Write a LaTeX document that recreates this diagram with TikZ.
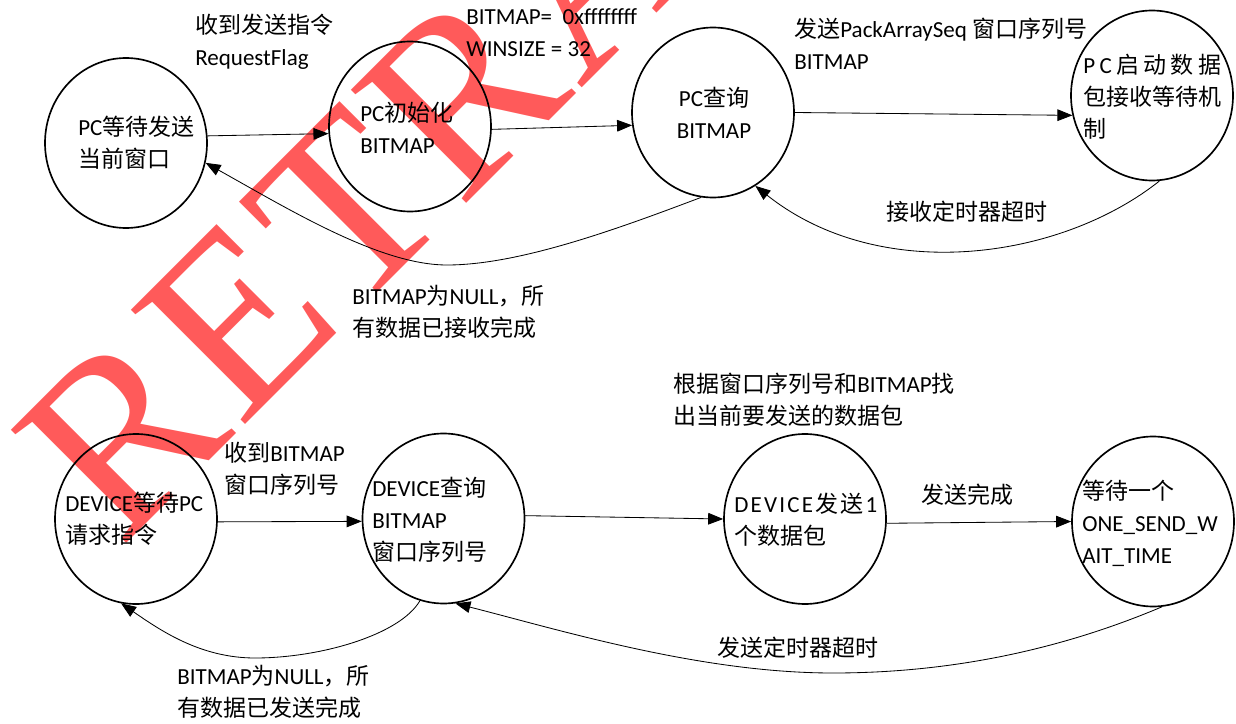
\documentclass[tikz,border=0pt]{standalone}
\usepackage{fontspec}
\setmainfont{Carlito}
\newfontfamily\cjk{Noto Sans CJK SC}
\newfontfamily\wmfont{Liberation Serif}
\usetikzlibrary{arrows.meta,shapes.geometric}
\definecolor{wmred}{RGB}{255,90,90}
\newcommand\zh[1]{{\cjk #1}}
\begin{document}
\begin{tikzpicture}[x=0.6pt,y=-0.6pt,
  state/.style={draw, ellipse, line width=1pt, minimum width=97.2pt, minimum height=102pt, inner sep=0pt},
  txt/.style={inner sep=0pt, align=left, anchor=west, font=\fontsize{13.8}{19.2}\selectfont},
  ctxt/.style={txt, anchor=center, align=center},
  flow/.style={line width=0.5pt, -{Triangle[length=9pt,width=7pt]}},
  wm/.style={rotate=45, anchor=base west, inner sep=0pt, text=wmred, font=\wmfont\fontsize{148}{148}\selectfont},
]
\useasboundingbox (0,0) rectangle (1236,724);
\node[wm] (mark) at (120,550) {R\kern3pt E\kern3pt T\kern3pt R\kern3pt A\kern3pt C\kern3pt T\kern3pt E\kern3pt D};

% states
\node[state] (e1) at (126,143) {};
\node[state] (e2) at (410,126.5) {};
\node[state] (e3) at (713,112.5) {};
\node[state] (e4) at (1152,95.5) {};
\node[state] (e5) at (136,519) {};
\node[state] (e6) at (443.5,518.5) {};
\node[state] (e7) at (805,519) {};
\node[state] (e8) at (1153,521.5) {};

% state texts
\node[txt] (t1) at (78,143) {PC\zh{等待发送}\\\zh{当前窗口}};
\node[txt] (t2) at (360,127.5) {PC\zh{初始化}\\BITMAP};
\node[ctxt] (t3) at (714,113) {PC\zh{查询}\\BITMAP};
\node[txt] (t4) at (1083,97) {\makebox[82.8pt][s]{P\hfill C\hfill\zh{启}\hfill\zh{动}\hfill\zh{数}\hfill\zh{据}}\\\zh{包接收等待机}\\\zh{制}};
\node[txt] (t5) at (65,519) {DEVICE\zh{等待}PC\\\zh{请求指令}};
\node[txt] (t6) at (372,520) {DEVICE\zh{查询}\\BITMAP\\\zh{窗口序列号}};
\node[txt] (t7) at (734,520) {\makebox[85.8pt][s]{D\hfill E\hfill V\hfill I\hfill C\hfill E\hfill\zh{发}\hfill\zh{送}\hfill 1}\\\zh{个数据包}};
\node[txt] (t8) at (1082,523) {\zh{等待一个}\\ONE\_SEND\_W\\AIT\_TIME};

% labels
\node[txt] (l1) at (195,42) {\zh{收到发送指令}\\RequestFlag};
\node[txt] (l2) at (466,33) {BITMAP=\ \ 0xffffffff\\WINSIZE = 32};
\node[txt] (l3) at (794,44) {\zh{发送}PackArraySeq\ \zh{窗口序列号}\\BITMAP};
\node[ctxt] (l4) at (967,212) {\zh{接收定时器超时}};
\node[txt] (l5) at (352,311.5) {BITMAP\zh{为}NULL\zh{，所}\\\zh{有数据已接收完成}};
\node[txt] (l6) at (224,468.5) {\zh{收到}BITMAP\\\zh{窗口序列号}};
\node[txt] (l7) at (673,400) {\zh{根据窗口序列号和}BITMAP\zh{找}\\\zh{出当前要发送的数据包}};
\node[ctxt] (l8) at (967,495) {\zh{发送完成}};
\node[ctxt] (l9) at (798,648) {\zh{发送定时器超时}};
\node[txt] (l10) at (177,691.5) {BITMAP\zh{为}NULL\zh{，所}\\\zh{有数据已发送完成}};

% connectors
\draw[flow] (e1.5) -- (e2.185);
\draw[flow] (e2.-2) -- (e3.189);
\draw[flow] (e3.east) -- (e4.194);
\draw[flow] (e4.-85) .. controls (1060,260) and (880,285) .. (e3.-60);
\coordinate (c1) at (447,265);
\draw[flow] (e3.-98) .. controls (620,228) and (520,265) .. (c1) .. controls (380,265) and (290,210) .. (e1.-14);
\draw[flow] (e5.-2) -- (e6.182);
\draw[flow] (e6.2) -- (e7.180);
\draw[flow] (e7.-3) -- (e8.west);
\coordinate (c2) at (833,673);
\draw[flow] (e8.-84) .. controls (1060,650) and (950,673) .. (c2) .. controls (700,673) and (560,630) .. (e6.-82);
\coordinate (c3) at (255,658);
\draw[flow] (e6.-106) .. controls (400,635) and (320,658) .. (c3) .. controls (200,658) and (160,630) .. (e5.-100);
\end{tikzpicture}
\end{document}
